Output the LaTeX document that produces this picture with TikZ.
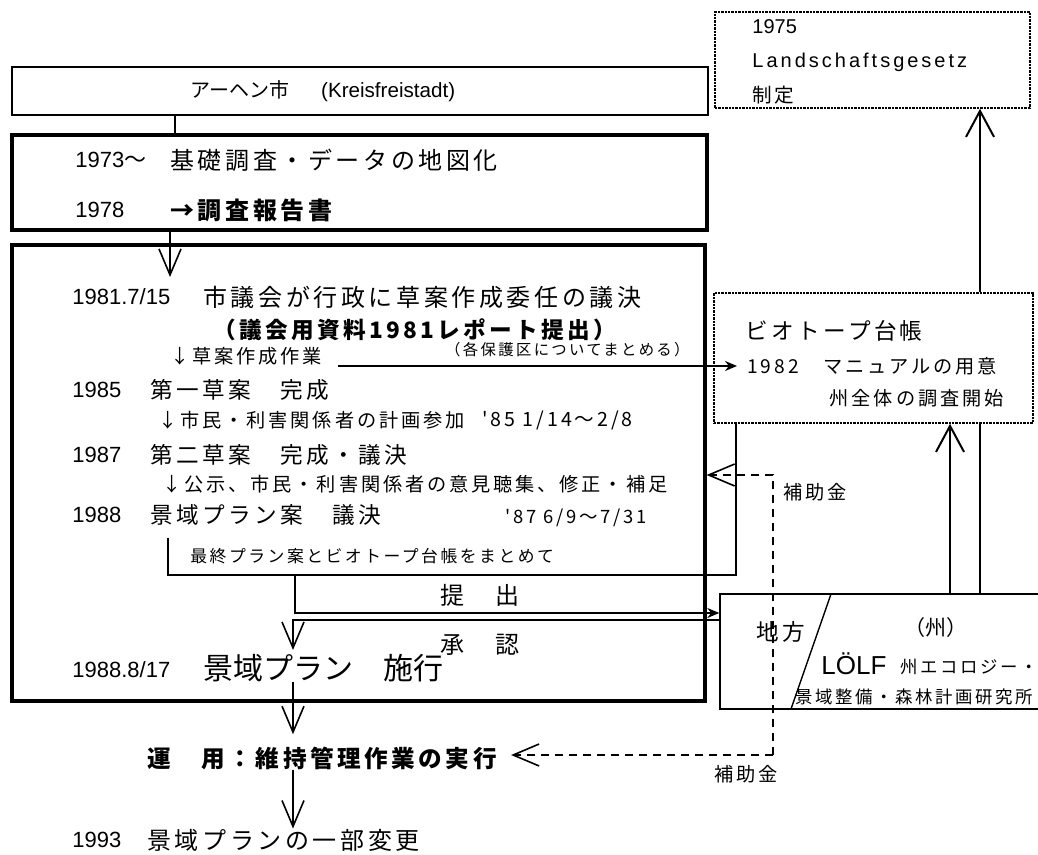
\documentclass[tikz,border=0pt]{standalone}
\usepackage{fontspec}
\setmainfont{Liberation Sans}
\newfontfamily\jp{Noto Sans CJK JP}
\newfontfamily\jpw{Noto Sans CJK JP}[LetterSpace=15]
\newfontfamily\lsw{Liberation Sans}[LetterSpace=15]
\usetikzlibrary{arrows.meta,fit}

\tikzset{
  box/.style={draw,line width=0.7pt,inner sep=0pt},
  thickbox/.style={draw,line width=1.6pt,inner sep=0pt},
  dotbox/.style={draw,dash pattern=on 1.2pt off 0.5pt,line width=0.8pt,inner sep=0pt,fill=white},
  yr/.style={anchor=west,inner sep=0pt,font=\fontsize{11}{12}\selectfont},
  jt/.style={anchor=west,inner sep=0pt,font=\jpw\fontsize{11.3}{13}\selectfont},
  js/.style={anchor=west,inner sep=0pt,font=\jpw\fontsize{9.6}{11}\selectfont},
  varrow/.style={line width=0.8pt,-{Straight Barb[length=13pt,width=11pt]}},
  uparrow/.style={line width=1pt,-{Straight Barb[length=13pt,width=14pt]}},
  sarrow/.style={line width=0.8pt,-{Stealth[length=6pt,width=5pt]}},
  subsidy/.style={dash pattern=on 4pt off 3pt}
}

\begin{document}
\begin{tikzpicture}[x=0.5pt,y=-0.5pt]
\useasboundingbox (0,0) rectangle (1038,855);

\node[box,fit={(12,67) (708,115)}] (city) {};
\node[thickbox,fit={(12,135) (707,230)}] (survey) {};
\node[thickbox,fit={(12,245) (705,701)}] (plan) {};
\node[box,fit={(720,594) (1060,709)}] (state) {};
\node[dotbox,fit={(715,12) (1030,108)}] (law) {};
\node[dotbox,fit={(714,293) (1033,423)}] (bio) {};

\node[anchor=west,inner sep=0pt,font=\fontsize{10.3}{12}\selectfont] (cityname) at (190,91) {{\jp\fontsize{10}{11}\selectfont アーヘン市}\hspace{16pt}(Kreisfreistadt)};

\node[yr] (y1973) at (75,160) {1973{\jp ～}};
\node[jt,font=\jpw\fontsize{12}{14}\selectfont] (basic) at (170,160) {基礎調査・データの地図化};
\node[yr] (y1978) at (75,210) {1978};
\node[jt,font=\jpw\bfseries\fontsize{12}{14}\selectfont] (report) at (170,210) {→調査報告書};

\node[yr] (y1981) at (72,297) {1981.7/15};
\node[jt,font=\jpw\fontsize{12}{14}\selectfont] (council) at (203,297) {市議会が行政に草案作成委任の議決};
\node[jt,font=\jpw\bfseries\fontsize{11.3}{13}\selectfont] (material) at (213,330) {（議会用資料1981レポート提出）};
\node[js] (draftwork) at (170,356) {↓草案作成作業};
\node[js,font=\jpw\fontsize{7.7}{9}\selectfont,anchor=east] (each) at (690,350) {（各保護区についてまとめる）};
\node[yr] (y1985) at (72,390) {1985};
\node[jt] (first) at (150,390) {第一草案　完成};
\node[js] (partic) at (158,420) {↓市民・利害関係者の計画参加};
\node[js,font=\jpw\fontsize{9.8}{11}\selectfont] (p85) at (482,420) {'85 1/14～2/8};
\node[yr] (y1987) at (72,455) {1987};
\node[jt] (second) at (150,455) {第二草案　完成・議決};
\node[js] (public) at (162,484) {↓公示、市民・利害関係者の意見聴集、修正・補足};
\node[yr] (y1988) at (72,515) {1988};
\node[jt] (draft88) at (150,515) {景域プラン案　議決};
\node[js,font=\jpw\fontsize{9.2}{11}\selectfont] (p87) at (505,518) {'87 6/9～7/31};
\node[js,font=\jpw\fontsize{8.4}{10}\selectfont] (combine) at (190,556) {最終プラン案とビオトープ台帳をまとめて};
\node[jt,font=\jpw\fontsize{12}{14}\selectfont] (teishutsu) at (440,595) {提　出};
\node[jt,font=\jpw\fontsize{12}{14}\selectfont] (shonin) at (440,645) {承　認};
\node[yr] (y1988b) at (72,670) {1988.8/17};
\node[jt,font=\jp\fontsize{15}{17}\selectfont] (enforce) at (203,668) {景域プラン　施行};
\node[jt,font=\jpw\bfseries\fontsize{11.8}{14}\selectfont] (unyo) at (147,758) {運　用：維持管理作業の実行};
\node[yr] (y1993) at (72,840) {1993};
\node[jt,font=\jpw\fontsize{12}{14}\selectfont] (change) at (147,840) {景域プランの一部変更};

\node[anchor=west,inner sep=0pt,font=\fontsize{10}{11}\selectfont] (l1975) at (752,27) {1975};
\node[anchor=west,inner sep=0pt,font=\lsw\fontsize{10}{11}\selectfont] (lawname) at (752,62) {Landschaftsgesetz};
\node[jt,font=\jpw\fontsize{9.8}{11}\selectfont] (enact) at (752,95) {制定};

\node[jt] (bioname) at (745,331) {ビオトープ台帳};
\node[js] (n1982) at (747,366) {1982　マニュアルの用意};
\node[js,anchor=east] (survey82) at (1004,398) {州全体の調査開始};

\node[jt] (chiho) at (756,632) {地方};
\node[inner sep=0pt,font=\jp\fontsize{10.5}{12}\selectfont] (shu) at (936,628) {（州）};
\node[anchor=west,inner sep=0pt,font=\fontsize{13}{15}\selectfont] (lolf) at (821,664) {LÖLF};
\node[js,font=\jpw\fontsize{8.7}{10}\selectfont] (inst1) at (900,667) {州エコロジー・};
\node[js,font=\jpw\fontsize{8.7}{10}\selectfont] (inst2) at (795,697) {景域整備・森林計画研究所};
\draw[line width=0.7pt] (831,594) -- (791,709);

\node[js] (sub1) at (783,492) {補助金};
\node[js] (sub2) at (714,774) {補助金};

\coordinate (ka) at (175,0);
\coordinate (kb) at (170,277);
\coordinate (kc) at (168,575);
\coordinate (kd) at (736,0);
\coordinate (ke) at (295,613);
\coordinate (kf) at (293,620);
\coordinate (kg) at (293,650);
\coordinate (kh) at (773,475);
\coordinate (ki) at (773,755);
\coordinate (kj) at (980,0);
\coordinate (kk) at (950,0);

\draw[line width=0.7pt] (city.south -| ka) -- (survey.north -| ka);
\draw[varrow] (survey.south -| kb) -- (kb);
\draw[sarrow,shorten >=5pt] ([xshift=8pt]draftwork.east |- n1982.west) -- (n1982.west);
\draw[line width=0.7pt] ([yshift=-6pt]draft88.south -| kc) -- (kc) -| (bio.south -| kd);
\draw[sarrow] (kc -| ke) -- (ke) -- (ke -| state.west);
\draw[varrow] (kf -| state.west) -- (kf) -- (kg);
\draw[varrow,shorten >=6pt] (enforce.south -| kf) -- (unyo.north -| kf);
\draw[varrow] (unyo.south -| kf) -- (change.north -| kf);
\draw[varrow,subsidy] (ki) -- (kh) -- (kh -| plan.east);
\draw[varrow,subsidy,shorten >=7pt] (ki) -- (ki -| unyo.east);
\draw[line width=1pt] (state.north -| kj) -- (bio.south -| kj);
\draw[uparrow] (bio.north -| kj) -- (law.south -| kj);
\draw[uparrow] (state.north -| kk) -- (bio.south -| kk);
\end{tikzpicture}
\end{document}
